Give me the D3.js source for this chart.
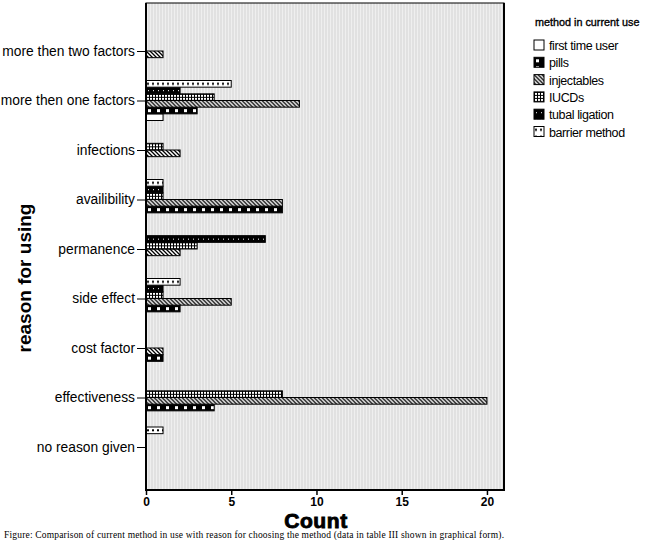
<!DOCTYPE html>
<html>
<head>
<meta charset="utf-8">
<script src="https://cdn.jsdelivr.net/npm/d3@7"></script>
<style>
  body { margin: 0; background: #fff; }
  svg { display: block; }
</style>
</head>
<body>
<div id="chart"></div>
<script>
// reasons, top to bottom as in the figure
const reasons = ["more then two factors", "more then one factors", "infections", "availibility",
  "permanence", "side effect", "cost factor", "effectiveness", "no reason given"];
const methods = ["first time user", "pills", "injectables", "IUCDs", "tubal ligation", "barrier method"];

// counts per method, same order as reasons
const firstTimeUser = [0, 1, 0, 0, 0, 0, 0, 0, 0];
const pills         = [0, 3, 0, 8, 0, 2, 1, 4, 0];
const injectables   = [1, 9, 2, 8, 2, 5, 1, 20, 0];
const iucds         = [0, 4, 1, 1, 3, 1, 0, 8, 0];
const tubalLigation = [0, 2, 0, 1, 7, 1, 0, 0, 0];
const barrierMethod = [0, 5, 0, 1, 0, 2, 0, 0, 1];
const xTicks = [0, 5, 10, 15, 20];

const series = [firstTimeUser, pills, injectables, iucds, tubalLigation, barrierMethod];

const width = 650, height = 540;
const plot = { left: 146, right: 504, top: 3, bottom: 490 };

const svg = d3.select("#chart").append("svg")
  .attr("width", width)
  .attr("height", height);

const defs = svg.append("defs");

// background stripes like the scanned spss plot
const bg = defs.append("pattern").attr("id", "bg")
  .attr("patternUnits", "userSpaceOnUse").attr("width", 3).attr("height", 10);
bg.append("rect").attr("width", 3).attr("height", 10).attr("fill", "#e1e1e1");
bg.append("rect").attr("width", 1).attr("height", 10).attr("fill", "#efefef");

// fill patterns, one per method
function pat(id, w, h) {
  return defs.append("pattern").attr("id", id)
    .attr("patternUnits", "userSpaceOnUse").attr("width", w).attr("height", h);
}
let p;
p = pat("p0", 4, 4);
p.append("rect").attr("width", 4).attr("height", 4).attr("fill", "#fff");

p = pat("p1", 9, 7);
p.append("rect").attr("width", 9).attr("height", 7).attr("fill", "#000");
p.append("rect").attr("x", 2).attr("y", 2).attr("width", 3).attr("height", 3).attr("fill", "#fff");

p = pat("p2", 4, 4);
p.append("rect").attr("width", 4).attr("height", 4).attr("fill", "#fff");
p.append("path").attr("d", "M-1,-1L5,5M-1,3L1,5M3,-1L5,1")
  .attr("stroke", "#000").attr("stroke-width", 1.3);

p = pat("p3", 3, 3);
p.append("rect").attr("width", 3).attr("height", 3).attr("fill", "#000");
p.append("rect").attr("x", 1).attr("y", 1).attr("width", 2).attr("height", 2).attr("fill", "#fff");

p = pat("p4", 5, 7);
p.append("rect").attr("width", 5).attr("height", 7).attr("fill", "#000");
p.append("rect").attr("x", 2).attr("y", 3).attr("width", 1).attr("height", 1).attr("fill", "#fff");

p = pat("p5", 5, 7);
p.append("rect").attr("width", 5).attr("height", 7).attr("fill", "#fff");
p.append("rect").attr("x", 1).attr("y", 2.3).attr("width", 2).attr("height", 2).attr("fill", "#000");

const fillOf = m => "url(#p" + methods.indexOf(m) + ")";

// scales
const x = d3.scaleLinear().domain([0, 21]).range([plot.left, plot.right]);
const y = d3.scalePoint().domain(reasons).range([51, 447]);
// within a group the last method sits on top
const inner = d3.scaleBand().domain(methods.slice().reverse()).range([-20, 20]);

// plot background
svg.append("rect")
  .attr("x", plot.left).attr("y", plot.top)
  .attr("width", plot.right - plot.left).attr("height", plot.bottom - plot.top)
  .attr("fill", "url(#bg)")
  .attr("stroke", "#000").attr("stroke-width", 1);

// bars
const groups = svg.append("g").selectAll("g")
  .data(reasons)
  .join("g")
  .attr("transform", d => `translate(0,${y(d)})`);

groups.each(function (r, i) {
  const rows = methods
    .map((m, j) => ({ method: m, value: series[j][i] }))
    .filter(d => d.value > 0);
  d3.select(this).selectAll("g")
    .data(rows)
    .join("g")
    .attr("transform", d => `translate(${x(0)},${inner(d.method)})`)
    .append("rect")
    .attr("width", d => x(d.value) - x(0))
    .attr("height", inner.bandwidth())
    .attr("fill", d => fillOf(d.method))
    .attr("stroke", "#000")
    .attr("stroke-width", 1);
});

// frame lines drawn thicker on left, bottom and right
svg.append("line").attr("x1", plot.left).attr("x2", plot.left)
  .attr("y1", plot.top).attr("y2", plot.bottom + 1)
  .attr("stroke", "#000").attr("stroke-width", 2);
svg.append("line").attr("x1", plot.right).attr("x2", plot.right)
  .attr("y1", plot.top).attr("y2", plot.bottom + 1)
  .attr("stroke", "#000").attr("stroke-width", 2);

// y axis
const yAxis = svg.append("g")
  .attr("transform", `translate(${plot.left},0)`)
  .call(d3.axisLeft(y).tickSize(9).tickPadding(2));
yAxis.select(".domain").remove();
yAxis.selectAll("text")
  .attr("font-family", "Liberation Sans, Arial, sans-serif")
  .attr("font-size", 13.8)
  .attr("fill", "#000");

// x axis
const xAxis = svg.append("g")
  .attr("transform", `translate(0,${plot.bottom})`)
  .call(d3.axisBottom(x).tickValues(xTicks).tickSize(5).tickPadding(2));
xAxis.select(".domain")
  .attr("stroke-width", 2)
  .attr("d", `M${plot.left - 1},0H${plot.right + 1}`);
xAxis.selectAll("line").attr("stroke-width", 1.5);
xAxis.selectAll("text")
  .attr("font-family", "Liberation Sans, Arial, sans-serif")
  .attr("font-size", 12)
  .attr("font-weight", "bold")
  .attr("fill", "#000");

// axis titles
svg.append("text")
  .attr("x", 316).attr("y", 527.5)
  .attr("text-anchor", "middle")
  .attr("font-family", "Liberation Sans, Arial, sans-serif")
  .attr("font-size", 21).attr("font-weight", "bold")
  .attr("stroke", "#000").attr("stroke-width", 0.9)
  .attr("letter-spacing", 0.6)
  .text("Count");

svg.append("text")
  .attr("transform", "translate(31,278) rotate(-90)")
  .attr("text-anchor", "middle")
  .attr("font-family", "Liberation Sans, Arial, sans-serif")
  .attr("font-size", 19).attr("font-weight", "bold")
  .text("reason for using");

// legend
const legend = svg.append("g").attr("transform", "translate(534,0)");
legend.append("text")
  .attr("x", 1).attr("y", 26)
  .attr("font-family", "Liberation Sans, Arial, sans-serif")
  .attr("font-size", 10.8)
  .attr("stroke", "#000").attr("stroke-width", 0.35)
  .text("method in current use");

const items = legend.selectAll("g.item")
  .data(methods)
  .join("g")
  .attr("class", "item")
  .attr("transform", (d, i) => `translate(0,${45 + i * 17.3 - 5})`);
items.append("rect")
  .attr("width", 10).attr("height", 10)
  .attr("fill", d => fillOf(d))
  .attr("stroke", "#000").attr("stroke-width", 1);
items.append("text")
  .attr("x", 15).attr("y", 10)
  .attr("font-family", "Liberation Sans, Arial, sans-serif")
  .attr("font-size", 12.5)
  .attr("letter-spacing", -0.4)
  .text(d => d);

// caption
svg.append("text")
  .attr("x", 4).attr("y", 538)
  .attr("font-family", "Liberation Serif, Times New Roman, serif")
  .attr("font-size", 9.5)
  .attr("textLength", 500).attr("lengthAdjust", "spacing")
  .text("Figure: Comparison of current method in use with reason for choosing the method (data in table III shown in graphical form).");
</script>
</body>
</html>
